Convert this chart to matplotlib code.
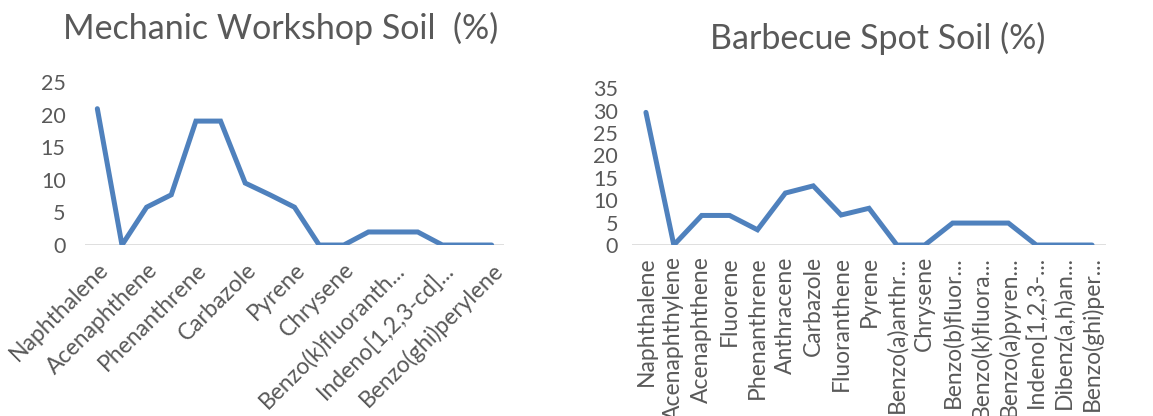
import numpy as np
import matplotlib.pyplot as plt

plt.rcParams['font.family'] = ['Lato', 'DejaVu Sans']

compounds = ['Naphthalene', 'Acenaphthylene', 'Acenaphthene', 'Fluorene', 'Phenanthrene',
             'Anthracene', 'Carbazole', 'Fluoranthene', 'Pyrene', 'Benzo(a)anthr...',
             'Chrysene', 'Benzo(b)fluor...', 'Benzo(k)fluora...', 'Benzo(a)pyren...',
             'Indeno[1,2,3-...', 'Dibenz(a,h)an...', 'Benzo(ghi)per...']

# left chart shows only every other label
mechanic_labels = ['Naphthalene', 'Acenaphthene', 'Phenanthrene', 'Carbazole', 'Pyrene',
                   'Chrysene', 'Benzo(k)fluoranth...', 'Indeno[1,2,3-cd]...', 'Benzo(ghi)perylene']

mechanic = [20.9, 0, 5.8, 7.7, 19.0, 19.0, 9.5, 7.7, 5.8, 0, 0, 2, 2, 2, 0, 0, 0]
barbecue = [29.6, 0, 6.6, 6.6, 3.4, 11.6, 13.2, 6.7, 8.2, 0, 0, 4.9, 4.9, 4.9, 0, 0, 0]

line_col = '#4F81BD'
txt_col = '#595959'

fig = plt.figure(figsize=(11.53, 4.16), dpi=100)

ax1 = fig.add_axes([85/1153, 0.411, 419/1153, 0.392])
ax2 = fig.add_axes([632/1153, 0.411, 474/1153, 0.377])

x = np.arange(len(compounds))

for ax, vals, ymax in [(ax1, mechanic, 25), (ax2, barbecue, 35)]:
    ax.plot(x, vals, color=line_col, lw=3.6, solid_capstyle='round', solid_joinstyle='miter')
    ax.set_xlim(-0.5, len(compounds) - 0.5)
    ax.set_ylim(0, ymax)
    ax.set_yticks(np.arange(0, ymax + 1, 5))
    for s in ax.spines.values():
        s.set_visible(False)
    ax.axhline(0, color='#D9D9D9', lw=1.2, zorder=0)
    ax.tick_params(axis='both', length=0, colors=txt_col)
    ax.tick_params(axis='y', labelsize=15.5)
    ax.tick_params(axis='x', labelsize=16.5)

ax1.set_xticks(x[::2])
ax1.set_xticklabels(mechanic_labels, rotation=45, ha='right', rotation_mode='anchor')
ax1.tick_params(axis='x', pad=10)
ax1.tick_params(axis='y', pad=14)

ax2.set_xticks(x)
ax2.set_xticklabels(compounds, rotation=90, ha='right', va='center', rotation_mode='anchor')
ax2.tick_params(axis='x', pad=8)
ax2.tick_params(axis='y', pad=10)

fig.text(63/1153, 1 - 28/416, 'Mechanic Workshop Soil  (%)', fontsize=24.5, color=txt_col, va='center')
fig.text(710/1153, 1 - 38/416, 'Barbecue Spot Soil (%)', fontsize=24.5, color=txt_col, va='center')

fig.savefig('out.png', dpi=100)
